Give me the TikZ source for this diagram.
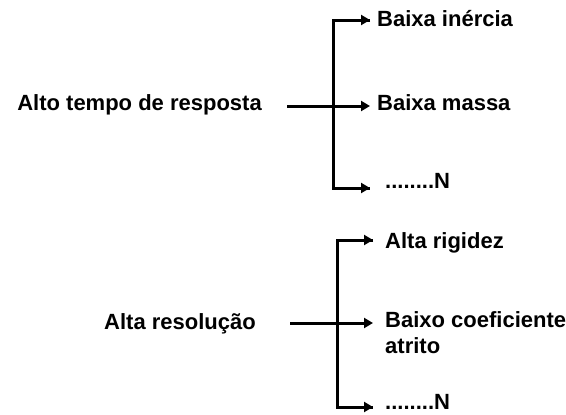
\documentclass[tikz,border=0pt]{standalone}
\usepackage{fontspec}
\setmainfont{Liberation Sans}
\usetikzlibrary{arrows.meta}
\begin{document}
\begin{tikzpicture}[x=1pt,y=-1pt,
  lbl/.style={inner sep=0pt,font=\fontsize{22}{26}\selectfont\bfseries,align=left},
  conn/.style={line width=3pt},
  arr/.style={conn,-{Triangle[length=9pt,width=10pt]}}]
\useasboundingbox (0,0) rectangle (566,415);
% top group
\node[lbl,anchor=base east] (s1) at (262,110) {Alto tempo de resposta};
\node[lbl,anchor=base west] (a1) at (377,27) {Baixa inércia};
\node[lbl,anchor=base west] (a2) at (377,110) {Baixa massa};
\node[lbl,anchor=base west] (a3) at (385,188) {........N};
\coordinate (h1) at (287,106);
\coordinate (j1t) at (333,20);
\coordinate (j1b) at (333,188);
\coordinate (e1t) at (370,20);
\coordinate (e1m) at (370,106);
\coordinate (e1b) at (370,188);
\draw[conn,line join=miter] (e1t) -- (j1t) -- (j1b) -- (e1b);
\draw[arr] (j1t) -- (e1t);
\draw[arr] (j1b) -- (e1b);
\draw[arr] (h1) -- (e1m);
% bottom group
\node[lbl,anchor=base east] (s2) at (256,329) {Alta resolução};
\node[lbl,anchor=base west] (b1) at (385,248) {Alta rigidez};
\node[lbl,anchor=base west] (b2) at (385,353) {Baixo coeficiente\\atrito};
\node[lbl,anchor=base west] (b3) at (385,409) {........N};
\coordinate (h2) at (290,323);
\coordinate (j2t) at (337,240);
\coordinate (j2b) at (337,407);
\coordinate (e2t) at (373,240);
\coordinate (e2m) at (373,323);
\coordinate (e2b) at (373,407);
\draw[conn,line join=miter] (e2t) -- (j2t) -- (j2b) -- (e2b);
\draw[arr] (j2t) -- (e2t);
\draw[arr] (j2b) -- (e2b);
\draw[arr] (h2) -- (e2m);
\end{tikzpicture}
\end{document}
